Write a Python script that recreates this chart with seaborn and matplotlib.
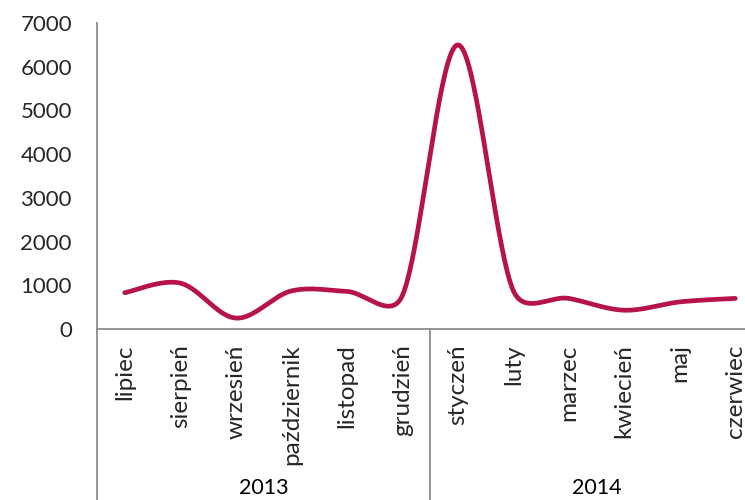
import numpy as np
import pandas as pd
import matplotlib
matplotlib.use("Agg")
import matplotlib.pyplot as plt
import seaborn as sns

# monthly values, July 2013 - June 2014
months = ["lipiec", "sierpień", "wrzesień", "październik", "listopad", "grudzień",
          "styczeń", "luty", "marzec", "kwiecień", "maj", "czerwiec"]
years = ["2013", "2014"]
months_per_year = [6, 6]
values = [830, 1050, 250, 870, 860, 760, 6500, 880, 700, 430, 620, 700]

y_ticks = [0, 1000, 2000, 3000, 4000, 5000, 6000, 7000]

LINE_COLOR = "#B5134A"
AXIS_COLOR = "#8C8C8C"


def excel_smooth(x, y, sx, sy, n=40):
    """Bezier smoothing like Excel's smoothed line (control points capped at half a segment)."""
    pts = np.column_stack([np.asarray(x, float) * sx, np.asarray(y, float) * sy])
    out = []
    for i in range(len(pts) - 1):
        p0 = pts[max(i - 1, 0)]
        p1 = pts[i]
        p2 = pts[i + 1]
        p3 = pts[min(i + 2, len(pts) - 1)]
        d12 = np.hypot(*(p2 - p1))
        d02 = np.hypot(*(p2 - p0))
        d13 = np.hypot(*(p3 - p1))
        f1 = 1 / 6 if d02 / 6 < d12 / 2 else d12 / (2 * d02)
        f2 = 1 / 6 if d13 / 6 < d12 / 2 else d12 / (2 * d13)
        c1 = p1 + f1 * (p2 - p0)
        c2 = p2 - f2 * (p3 - p1)
        t = np.linspace(0, 1, n)[:, None]
        seg = (1 - t) ** 3 * p1 + 3 * (1 - t) ** 2 * t * c1 + 3 * (1 - t) * t ** 2 * c2 + t ** 3 * p2
        out.append(seg if i == 0 else seg[1:])
    out = np.vstack(out)
    return out[:, 0] / sx, out[:, 1] / sy


sns.set_theme(style="white")
plt.rcParams['font.family'] = ['Lato', 'DejaVu Sans']

fig = plt.figure(figsize=(7.45, 5), dpi=100)
# plot area runs past the right edge of the picture, as in the original
ax = fig.add_axes([97 / 745, 171 / 500, 666 / 745, 306 / 500])

xs, ys = excel_smooth(range(len(values)), values, 55.5, 306 / 7000)
smooth_df = pd.DataFrame({"x": xs, "y": ys})
sns.lineplot(data=smooth_df, x="x", y="y", sort=False, estimator=None,
             color=LINE_COLOR, linewidth=3.4, ax=ax)

ax.set_xlim(-0.5, len(months) - 0.5)
ax.set_ylim(0, 7000)
ax.set_xticks(range(len(months)))
ax.set_xticklabels(months, rotation=90, fontsize=17.5)
ax.set_yticks(y_ticks)
ax.set_yticklabels([str(v) for v in y_ticks], fontsize=16)
ax.tick_params(axis="x", length=0, pad=11)
ax.tick_params(axis="y", length=0, pad=18)
ax.set_xlabel("")
ax.set_ylabel("")

for side in ["top", "right"]:
    ax.spines[side].set_visible(False)
for side in ["left", "bottom"]:
    ax.spines[side].set_color(AXIS_COLOR)
    ax.spines[side].set_linewidth(1.3)

# year groups under the month labels
xt = ax.get_xaxis_transform()
start = -0.5
for year, n in zip(years, months_per_year):
    ax.plot([start, start], [0, -0.6], transform=xt, clip_on=False,
            color=AXIS_COLOR, linewidth=1.3)
    ax.text(start + n / 2, -0.52, year, transform=xt, ha="center", va="center",
            fontsize=15.5, color="black")
    start += n
ax.plot([start, start], [0, -0.6], transform=xt, clip_on=False,
        color=AXIS_COLOR, linewidth=1.3)

fig.savefig("out.png", dpi=100)
